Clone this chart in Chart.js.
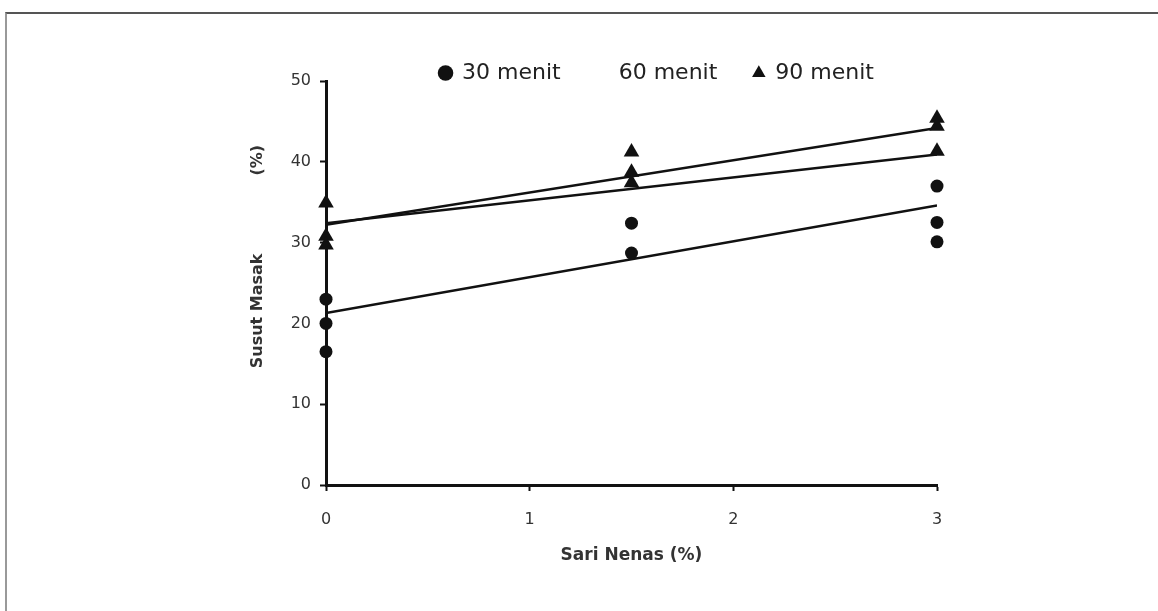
<!DOCTYPE html>
<html>
<head>
<meta charset="utf-8">
<script src="https://cdn.jsdelivr.net/npm/chart.js@4.4.1/dist/chart.umd.min.js"></script>
<style>
    body { margin: 0; background: #fff; }
    #wrap { position: relative; width: 1158px; height: 611px; overflow: hidden; background: #fff; }
    #frame { position: absolute; left: 5px; top: 12px; right: -4px; bottom: -4px; border-top: 2px solid #555; border-left: 2px solid #999; }
    #chart { position: absolute; left: 0; top: 0; }
</style>
</head>
<body>
<div id="wrap">
    <div id="frame"></div>
    <canvas id="chart" width="1158" height="611"></canvas>
</div>
<script>
// Data (x = Sari Nenas %, y = Susut Masak %)
const seriesLabels = ['30 menit', '60 menit', '90 menit'];

const x30 = [0, 0, 0, 1.5, 1.5, 3, 3, 3];
const y30 = [23, 20, 16.5, 32.4, 28.7, 37, 32.5, 30.1];

// no marker is visible for 60 menit in the figure, only its line
const x60 = [];
const y60 = [];

const x90 = [0, 0, 0, 1.5, 1.5, 1.5, 3, 3, 3];
const y90 = [34.9, 30.8, 29.7, 41.2, 38.7, 37.4, 45.4, 44.4, 41.3];

// fitted lines, start and end
const trendX = [0, 3];
const trend30 = [21.3, 34.6];
const trend60 = [32.4, 40.9];
const trend90 = [32.2, 44.2];

const xTicks = [0, 1, 2, 3];
const yTicks = [0, 10, 20, 30, 40, 50];

const toPoints = (xs, ys) => xs.map((x, i) => ({ x: x, y: ys[i] }));

const INK = '#111';
const FONT = "'DejaVu Sans', sans-serif";

const pointSet = (label, xs, ys, style, radius) => ({
    label: label,
    data: toPoints(xs, ys),
    pointStyle: style,
    pointRadius: radius,
    pointHoverRadius: radius,
    backgroundColor: INK,
    borderColor: INK,
    borderWidth: 0,
    showLine: false,
    clip: false,
    order: 1
});

const trendSet = (ys) => ({
    type: 'line',
    label: '',
    isTrend: true,
    data: toPoints(trendX, ys),
    borderColor: INK,
    borderWidth: 2.5,
    pointRadius: 0,
    fill: false,
    tension: 0,
    order: 2
});

// y title is split in two pieces in the original
const yTitlePlugin = {
    id: 'yTitle',
    afterDraw(chart) {
        const { ctx, chartArea } = chart;
        const h = chartArea.bottom - chartArea.top;
        const parts = [['Susut Masak', 0.569], ['(%)', 0.196]];
        ctx.save();
        ctx.fillStyle = '#333';
        ctx.font = "bold 16px 'DejaVu Sans', sans-serif";
        ctx.textAlign = 'center';
        ctx.textBaseline = 'middle';
        parts.forEach(([txt, f]) => {
            ctx.save();
            ctx.translate(chartArea.left - 68, chartArea.top + h * f);
            ctx.rotate(-Math.PI / 2);
            ctx.fillText(txt, 0, 0);
            ctx.restore();
        });
        ctx.restore();
    }
};

const ctx = document.getElementById('chart').getContext('2d');

new Chart(ctx, {
    type: 'scatter',
    data: {
        datasets: [
            pointSet(seriesLabels[0], x30, y30, 'circle', 6.5),
            pointSet(seriesLabels[1], x60, y60, false, 6),
            pointSet(seriesLabels[2], x90, y90, 'triangle', 9),
            trendSet(trend30),
            trendSet(trend60),
            trendSet(trend90)
        ]
    },
    options: {
        responsive: false,
        animation: false,
        devicePixelRatio: 1,
        layout: { padding: { left: 156, right: 0, top: 26, bottom: 36 } },
        plugins: {
            tooltip: { enabled: false },
            legend: {
                display: true,
                position: 'top',
                align: 'center',
                maxHeight: 55,
                labels: {
                    usePointStyle: true,
                    boxWidth: 11,
                    boxHeight: 11,
                    padding: 36,
                    color: '#222',
                    font: { family: FONT, size: 22 },
                    generateLabels(chart) {
                        return chart.data.datasets
                            .map((ds, i) => ({ ds, i }))
                            .filter(o => !o.ds.isTrend)
                            .map(({ ds, i }) => ({
                                text: ds.label,
                                fillStyle: ds.pointStyle ? INK : 'rgba(0,0,0,0)',
                                strokeStyle: 'rgba(0,0,0,0)',
                                lineWidth: 0,
                                pointStyle: ds.pointStyle || 'circle',
                                fontColor: '#222',
                                hidden: false,
                                datasetIndex: i
                            }));
                    }
                }
            }
        },
        scales: {
            x: {
                type: 'linear',
                position: 'bottom',
                min: xTicks[0],
                max: xTicks[xTicks.length - 1],
                afterBuildTicks(scale) { scale.ticks = xTicks.map(v => ({ value: v })); },
                ticks: { color: '#333', font: { family: FONT, size: 16 }, padding: 19 },
                grid: { display: true, drawOnChartArea: false, drawTicks: true, tickLength: 6, tickWidth: 2, tickColor: INK },
                border: { display: true, color: INK, width: 3 },
                title: {
                    display: true,
                    text: 'Sari Nenas (%)',
                    color: '#333',
                    font: { family: FONT, size: 17, weight: 'bold' },
                    padding: { top: 0, bottom: 9 }
                },
                afterFit(scale) { scale.height = 90; }
            },
            y: {
                type: 'linear',
                position: 'left',
                min: yTicks[0],
                max: yTicks[yTicks.length - 1],
                afterBuildTicks(scale) { scale.ticks = yTicks.map(v => ({ value: v })); },
                ticks: { color: '#333', font: { family: FONT, size: 16 }, padding: 9 },
                grid: { display: true, drawOnChartArea: false, drawTicks: true, tickLength: 6, tickWidth: 2, tickColor: INK },
                border: { display: true, color: INK, width: 3 },
                afterFit(scale) { scale.width = 170; }
            },
            // empty right side of the figure, keeps the legend where it was
            yRight: {
                type: 'linear',
                position: 'right',
                display: true,
                grid: { display: false, drawTicks: false },
                border: { display: false },
                ticks: { display: false },
                afterFit(scale) { scale.width = 221; }
            }
        }
    },
    plugins: [yTitlePlugin]
});
</script>
</body>
</html>
